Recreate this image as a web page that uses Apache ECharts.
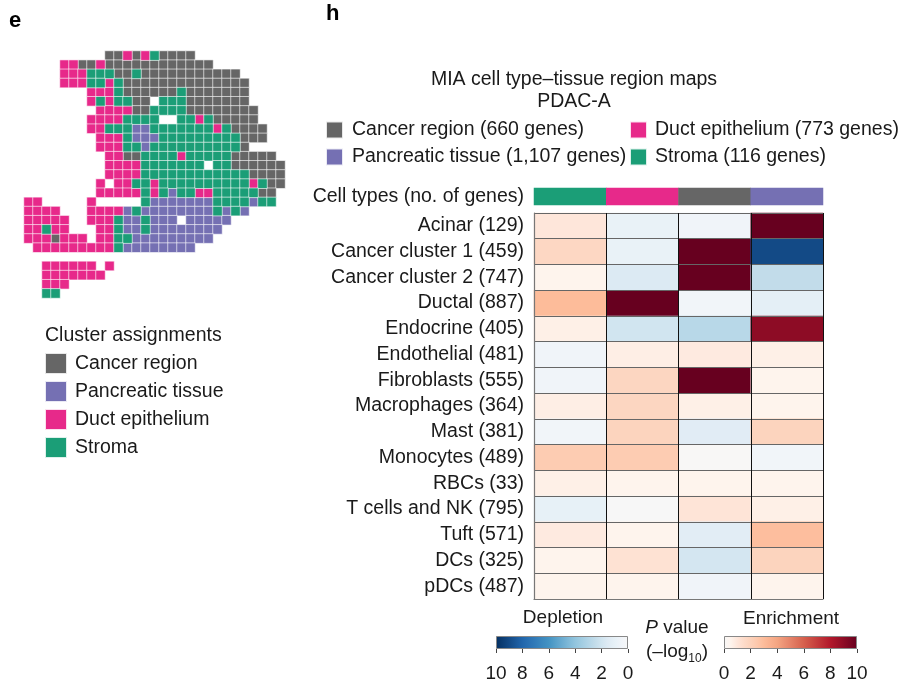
<!DOCTYPE html>
<html><head><meta charset="utf-8">
<style>html,body{margin:0;padding:0;background:#fff}#c{width:908px;height:684px}</style>
<script src="https://cdn.jsdelivr.net/npm/echarts@6/dist/echarts.min.js"></script>
</head><body><div id="c"></div>
<script>
// Spatial map: G cancer region, V pancreatic tissue, P duct epithelium, S stroma, A empty
const mapRows = [
"AAAAAAAAAGGPGPSGGGG",
"AAAAPPGGPGGGGGGGGGGGG",
"AAAAPPPSSSGGSGGGGGGGGGGG",
"AAAAPPPSSPSGGGGGGGGGGGGGG",
"AAAAAAAPPPSGGGGGGSGGGGGGG",
"AAAAAAAPSPSSGGASSSGGGGGGG",
"AAAAAAAAPPPPGGSSSSGGGGGGGG",
"AAAAAAAPPPPSSSSAASSPSGGGGG",
"AAAAAAAPPSSSVVSSSSSSSPSGGGG",
"AAAAAAAAPPPSVVVSSSSSSSSSGGG",
"AAAAAAAAPPPSSVSSSSSSSSSSG",
"AAAAAAAAAPPGGSSSSPSSSSSGGGGG",
"AAAAAAAAAPPPPSSSSSSSASSGGGGGG",
"AAAAAAAAAPPPPSSSSSSSSSSSSGGGG",
"AAAAAAAAPAPPSSPSSSSSSSSSSPSGG",
"AAAAAAAAPPPPPSPSVSSPPSSSSSGG",
"PPAAAAAPAAAAASVVVVVVVSSSSVSS",
"PPPPAAAPPPPVSVVVVVVVVSVSV",
"PPPPPAAPPPSVVSVVVAVVVVV",
"PPSPPAAAPPSVVSVVVVVVVV",
"PPPGPPPAPPSSVVVVVVVVV",
"APPPPPPPPPSVVVVVVVV",
"",
"AAPPPPPPAP",
"AAPPPPPPP",
"AAPPP",
"AASS"
];
const clusterNames = ["Cancer region","Pancreatic tissue","Duct epithelium","Stroma"];
const clusterCodes = ["G","V","P","S"];
const clusterColors = ["#666666","#7570b3","#e7298a","#1b9e77"];
const clusterGenes = ["660","1,107","773","116"];

// Heat map
const cellTypes = ["Acinar (129)","Cancer cluster 1 (459)","Cancer cluster 2 (747)","Ductal (887)","Endocrine (405)","Endothelial (481)","Fibroblasts (555)","Macrophages (364)","Mast (381)","Monocytes (489)","RBCs (33)","T cells and NK (795)","Tuft (571)","DCs (325)","pDCs (487)"];
const regionOrder = ["Stroma","Duct epithelium","Cancer region","Pancreatic tissue"];
const signedLogP = [
[1,-0.9,-0.5,10],
[1.7,-0.9,10,-9],
[0.5,-1.6,10,-2.5],
[3,10,-0.4,-1.2],
[0.65,-2,-2.8,9],
[-0.5,0.7,0.85,0.65],
[-0.5,1.8,10,0.5],
[0.7,1.8,0.65,0.5],
[-0.4,1.9,-1.4,1.9],
[2.3,2.3,0.05,-0.4],
[0.65,0.5,0.5,0.5],
[-1,0,1.1,0.65],
[0.85,0.5,-1.3,2.9],
[0.5,1.2,-1.9,1.9],
[0.5,0.5,-0.5,0.5]
];
// color scale, -10 … 10 in half-unit steps
const palette = ["#053061","#0c3d74","#134a86","#1a5899","#2166ac","#2a71b3","#327cb9","#3b88be","#4393c3","#57a0ca","#6bacd1","#7fb9d8","#92c5de","#a2cde2","#b2d5e7","#c2dcea","#d1e5f0","#dfebf4","#e7f1f7","#f0f4f9","#f7f7f7",
"#fef4ed","#fee6da","#fddbc9","#fcd2bb","#fdc8ac","#fdbc9a","#f9b08e","#f4a582","#ec9375","#e58268","#dd715a","#d6604d","#cd4e44","#c43c3c","#bb2a33","#b2182b","#a01228","#8d0c25","#7a0622","#67001f"];

const FONT = '"Liberation Sans", Arial, sans-serif';
const TXT = "#1a1a1a";
const FS = 19.5;
const cols = Array.from({length:29},(_,i)=>i);
const rows = mapRows.map((_,i)=>i);

function gradient(colors){
  return {type:'linear',x:0,y:0,x2:1,y2:0,
    colorStops:colors.map((c,i)=>({offset:i/(colors.length-1),color:c}))};
}
const mapSeries = clusterNames.map((name,k)=>{
  const data=[];
  mapRows.forEach((row,r)=>{[...row].forEach((ch,c)=>{ if(ch===clusterCodes[k]) data.push([c,r,1]); });});
  return {name,type:'heatmap',xAxisIndex:0,yAxisIndex:0,data,
    itemStyle:{color:clusterColors[k],borderColor:'rgba(255,255,255,0.85)',borderWidth:0.7},
    emphasis:{disabled:true},silent:true};
});
const annotationData = regionOrder.map((n,i)=>({value:[i,0,1],itemStyle:{color:clusterColors[clusterNames.indexOf(n)]}}));
const heatData=[];
signedLogP.forEach((row,r)=>row.forEach((v,c)=>heatData.push([c,r,v])));

function colorbarAxes(gi,inverse){
  return {
    x:{type:'value',gridIndex:gi,min:0,max:10,interval:2,inverse,
      axisLine:{show:false},splitLine:{show:false},
      axisTick:{show:true,length:4,lineStyle:{color:'#444'}},
      axisLabel:{fontFamily:FONT,fontSize:19,color:TXT,margin:15,showMinLabel:true,showMaxLabel:true,alignMinLabel:'center',alignMaxLabel:'center'}},
    y:{type:'category',gridIndex:gi,data:['P'],show:false}
  };
}
const dep=colorbarAxes(3,true), enr=colorbarAxes(4,false);

const option={
  animation:false,
  backgroundColor:'#fff',
  textStyle:{fontFamily:FONT},
  grid:[
    {left:24,top:51,width:261,height:247},
    {left:534,top:188,width:289,height:17},
    {left:534,top:213,width:289,height:386},
    {left:496,top:636,width:132,height:13},
    {left:724,top:636,width:133,height:13}
  ],
  xAxis:[
    {type:'category',gridIndex:0,data:cols,show:false},
    {type:'category',gridIndex:1,data:regionOrder,show:false},
    {type:'category',gridIndex:2,data:regionOrder,z:5,position:'bottom',
      axisLine:{show:true,onZero:false,lineStyle:{color:'#777',width:1.2}},axisTick:{show:false},axisLabel:{show:false},
      splitLine:{show:true,interval:0,lineStyle:{color:'#111',width:1}}},
    dep.x,enr.x
  ],
  yAxis:[
    {type:'category',gridIndex:0,data:rows,inverse:true,show:false},
    {type:'category',gridIndex:1,data:['Cell types (no. of genes)'],
      axisLine:{show:false},axisTick:{show:false},
      axisLabel:{fontFamily:FONT,fontSize:FS,color:TXT,margin:10}},
    {type:'category',gridIndex:2,data:cellTypes,inverse:true,z:5,
      axisLine:{show:true,onZero:false,lineStyle:{color:'#777',width:1.2}},axisTick:{show:false},
      axisLabel:{fontFamily:FONT,fontSize:FS,color:TXT,margin:10,interval:0},
      splitLine:{show:true,interval:0,lineStyle:{color:'#666',width:1}}},
    dep.y,enr.y
  ],
  visualMap:[{type:'continuous',show:false,seriesIndex:5,dimension:2,min:-10,max:10,inRange:{color:palette}}],
  legend:[
    {left:325,top:120,padding:0,orient:'vertical',itemWidth:17,itemHeight:17,itemGap:7,icon:'rect',selectedMode:false,
      data:[clusterNames[0],clusterNames[1]],
      formatter:n=>`${n} (${clusterGenes[clusterNames.indexOf(n)]} genes)`,
      textStyle:{fontFamily:FONT,fontSize:FS,color:TXT,padding:[0,0,0,4]}},
    {left:629,top:120,padding:0,orient:'vertical',itemWidth:17,itemHeight:17,itemGap:7,icon:'rect',selectedMode:false,
      data:[clusterNames[2],clusterNames[3]],
      formatter:n=>`${n} (${clusterGenes[clusterNames.indexOf(n)]} genes)`,
      textStyle:{fontFamily:FONT,fontSize:FS,color:TXT,padding:[0,0,0,3]}},
    {left:44,top:352,padding:0,orient:'vertical',itemWidth:22,itemHeight:21,itemGap:5,icon:'rect',selectedMode:false,
      data:clusterNames,
      textStyle:{fontFamily:FONT,fontSize:FS,color:TXT,padding:[0,0,0,3]}}
  ],
  series:[
    ...mapSeries,
    {name:'Region annotation',type:'heatmap',xAxisIndex:1,yAxisIndex:1,data:annotationData,emphasis:{disabled:true},silent:true,
      itemStyle:{borderWidth:0}},
    {name:'P value',type:'heatmap',xAxisIndex:2,yAxisIndex:2,data:heatData,emphasis:{disabled:true},silent:true},
    {name:'Depletion',type:'bar',xAxisIndex:3,yAxisIndex:3,data:[10],barWidth:'100%',silent:true,
      itemStyle:{color:gradient(palette.slice(0,21)),borderColor:'#888',borderWidth:1}},
    {name:'Enrichment',type:'bar',xAxisIndex:4,yAxisIndex:4,data:[10],barWidth:'100%',silent:true,
      itemStyle:{color:gradient(palette.slice(20)),borderColor:'#888',borderWidth:1}}
  ],
  graphic:[
    {type:'text',style:{x:9,y:21,text:'e',font:`bold 22px ${FONT}`,fill:'#000',textVerticalAlign:'middle'}},
    {type:'text',style:{x:326,y:14,text:'h',font:`bold 22px ${FONT}`,fill:'#000',textVerticalAlign:'middle'}},
    {type:'text',style:{x:574,y:80,text:'MIA cell type–tissue region maps',font:`${FS}px ${FONT}`,fill:TXT,textAlign:'center',textVerticalAlign:'middle'}},
    {type:'text',style:{x:574,y:102,text:'PDAC-A',font:`${FS}px ${FONT}`,fill:TXT,textAlign:'center',textVerticalAlign:'middle'}},
    {type:'text',style:{x:45,y:336,text:'Cluster assignments',font:`${FS}px ${FONT}`,fill:TXT,textVerticalAlign:'middle'}},
    {type:'text',style:{x:563,y:618,text:'Depletion',font:`19px ${FONT}`,fill:TXT,textAlign:'center',textVerticalAlign:'middle'}},
    {type:'text',style:{x:791,y:619,text:'Enrichment',font:`19px ${FONT}`,fill:TXT,textAlign:'center',textVerticalAlign:'middle'}},
    {type:'text',style:{x:677,y:628,text:'{i|P} value',fill:TXT,textAlign:'center',textVerticalAlign:'middle',
      font:`19px ${FONT}`,rich:{i:{font:`italic 19px ${FONT}`,fill:TXT}}}},
    {type:'text',style:{x:677,y:652,text:'(–log{s|10})',fill:TXT,textAlign:'center',textVerticalAlign:'middle',
      font:`19px ${FONT}`,rich:{s:{font:`12px ${FONT}`,fill:TXT,verticalAlign:'bottom',padding:[14,0,0,0]}}}}
  ]
};
echarts.init(document.getElementById('c'),null,{renderer:'canvas'}).setOption(option);
</script></body></html>
